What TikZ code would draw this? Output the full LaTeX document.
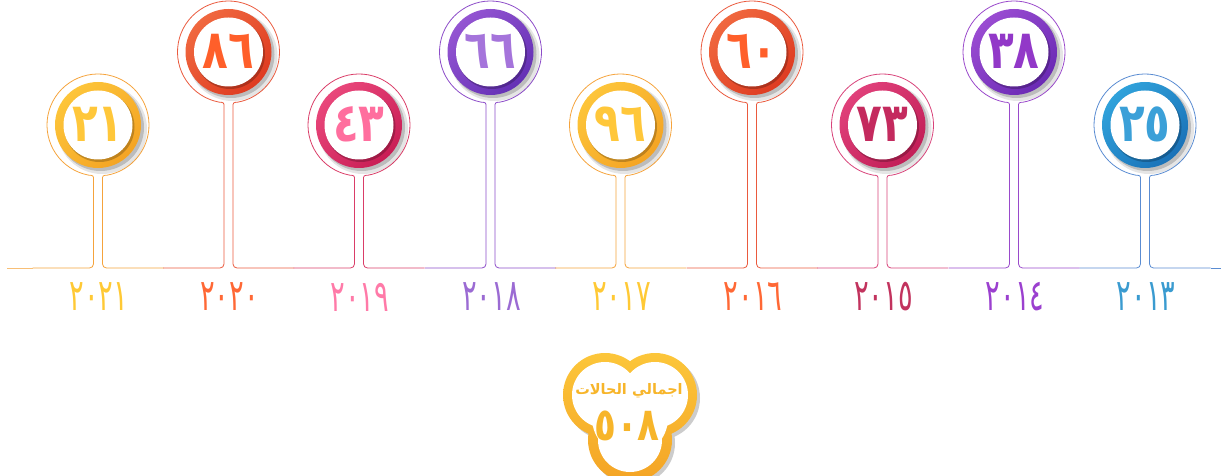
\documentclass[tikz,border=0pt]{standalone}
\usepackage{fontspec}
\usepackage{tikz}
\TeXXeTstate=1
\newfontfamily\arabicfont[Script=Arabic]{DejaVu Sans}
\newfontfamily\numfont[FakeStretch=0.78]{DejaVu Sans}
\newfontfamily\yearfont[FakeStretch=0.62]{DejaVu Sans}

% colour groups: line, ring (light/dark), number, year
\definecolor{yelline}{HTML}{F5A33C}\definecolor{yelringL}{HTML}{FDC53A}\definecolor{yelringD}{HTML}{F4A424}
\definecolor{yelnum}{HTML}{FFC73A}\definecolor{yelyear}{HTML}{FFC935}
\definecolor{orgline}{HTML}{EA5A3E}\definecolor{orgringL}{HTML}{F0683F}\definecolor{orgringD}{HTML}{DE3B21}
\definecolor{orgnum}{HTML}{FF5F2A}\definecolor{orgyear}{HTML}{FF6835}
\definecolor{pnkline}{HTML}{DA3D68}\definecolor{pnkringL}{HTML}{E9477B}\definecolor{pnkringD}{HTML}{C91E55}
\definecolor{pnknum}{HTML}{FF6E9E}\definecolor{pnkyear}{HTML}{FF7AA8}
\definecolor{purline}{HTML}{8C4CC8}\definecolor{purringL}{HTML}{9455D2}\definecolor{purringD}{HTML}{6430B5}
\definecolor{purnum}{HTML}{A574DB}\definecolor{puryear}{HTML}{9B6BD3}
\definecolor{crmline}{HTML}{D8437A}\definecolor{crmringL}{HTML}{E0407A}\definecolor{crmringD}{HTML}{C21F57}
\definecolor{crmnum}{HTML}{C42A5E}\definecolor{crmyear}{HTML}{C2335E}
\definecolor{violine}{HTML}{9A4ACB}\definecolor{vioringL}{HTML}{9A4CD2}\definecolor{vioringD}{HTML}{6A2AB4}
\definecolor{vionum}{HTML}{9238C8}\definecolor{vioyear}{HTML}{9B40CF}
\definecolor{bluline}{HTML}{5A8CD2}\definecolor{bluringL}{HTML}{30A2DB}\definecolor{bluringD}{HTML}{1A72B8}
\definecolor{blunum}{HTML}{3BA0D8}\definecolor{bluyear}{HTML}{3A9BD0}
\definecolor{cloudL}{HTML}{FCC63A}\definecolor{cloudD}{HTML}{F4A425}\definecolor{cloudtext}{HTML}{F7B52A}

\begin{document}
\begin{tikzpicture}[x=1pt, y=1pt]

    % Styles for the pins on the time line
    \tikzset{
        pinline/.style={line width=0.8pt},
        pinnum/.style={font=\numfont\bfseries\fontsize{54}{54}\selectfont, inner sep=0pt},
        pinyear/.style={font=\yearfont\fontsize{44}{44}\selectfont, inner sep=0pt},
        pics/pin/.style n args={4}{code={
            % outline circle with its two stems
            \draw[pinline, draw=#1line] (-65.5,-#2) -- (-8.5,-#2) arc[start angle=270, end angle=360, radius=4]
                -- (-4.5,-55) .. controls (-4.5,-50.5) .. (259.3:51)
                arc[start angle=259.3, end angle=-79.3, radius=51]
                .. controls (4.5,-50.5) .. (4.5,-55)
                -- (4.5,-#2+4) arc[start angle=180, end angle=270, radius=4] -- (65.5,-#2);
            \coordinate (west) at (-65.5,-#2);
            \coordinate (east) at (65.5,-#2);
            % ring with shadow
            \fill[black, opacity=.10] (4,-4) circle[radius=45];
            \fill[black, opacity=.18] (2.5,-2.5) circle[radius=43.5];
            \shade[top color=#1ringL, bottom color=#1ringD, shading angle=45] (0,0) circle[radius=43];
            \fill[black, opacity=.22] (1.5,-2) circle[radius=35];
            \fill[white] (0,0) circle[radius=34.5];
            \node[pinnum, text=#1num] (num) at (0,1) {#3};
            \node[pinyear, text=#1year] (year) at (1,-#2-29) {#4};
        }}
    }

    \useasboundingbox (0,0) rectangle (1221,-476);

    % ==========================================
    % Time line
    % ==========================================
    \pic (p21) at (98,-125)    {pin={yel}{143}{٢١}{٢٠٢١}};
    \pic (p20) at (228.5,-52)  {pin={org}{216}{٨٦}{٢٠٢٠}};
    \pic (p19) at (359,-125)   {pin={pnk}{143}{٤٣}{٢٠١٩}};
    \pic (p18) at (490.5,-52)  {pin={pur}{216}{٦٦}{٢٠١٨}};
    \pic (p17) at (620.5,-125) {pin={yel}{143}{٩٦}{٢٠١٧}};
    \pic (p16) at (752,-52)    {pin={org}{216}{٦٠}{٢٠١٦}};
    \pic (p15) at (882.5,-125) {pin={crm}{143}{٧٣}{٢٠١٥}};
    \pic (p14) at (1014,-52)   {pin={vio}{216}{٣٨}{٢٠١٤}};
    \pic (p13) at (1145,-125)  {pin={blu}{143}{٢٥}{٢٠١٣}};

    % Tails at both ends
    \coordinate (lineL) at (7,-268);
    \coordinate (lineR) at (1221,-268);
    \draw[pinline, draw=yelline!70] (lineL) -- (p21west);
    \draw[pinline, draw=bluline] (p13east) -- (lineR);

    % ==========================================
    % Total
    % ==========================================
    \fill[black, opacity=.2] (608,-398) circle[radius=42] (658,-398) circle[radius=42] (633,-443) circle[radius=42];
    \shade[top color=cloudL, bottom color=cloudD]
        (605,-395) circle[radius=42] (655,-395) circle[radius=42] (630,-440) circle[radius=42];
    \fill[white] (605,-395) circle[radius=33] (655,-395) circle[radius=33] (630,-440) circle[radius=32]
        (630,-418) circle[radius=38];
    \node[font=\arabicfont\bfseries\fontsize{14.5}{14.5}\selectfont, text=cloudtext, inner sep=0pt]
        (totaltitle) at (629,-391) {\beginR اجمالي الحالات\endR};
    \node[font=\numfont\bfseries\fontsize{46}{46}\selectfont, text=cloudtext, inner sep=0pt]
        (totalnum) at (627,-426) {٥٠٨};

\end{tikzpicture}
\end{document}
